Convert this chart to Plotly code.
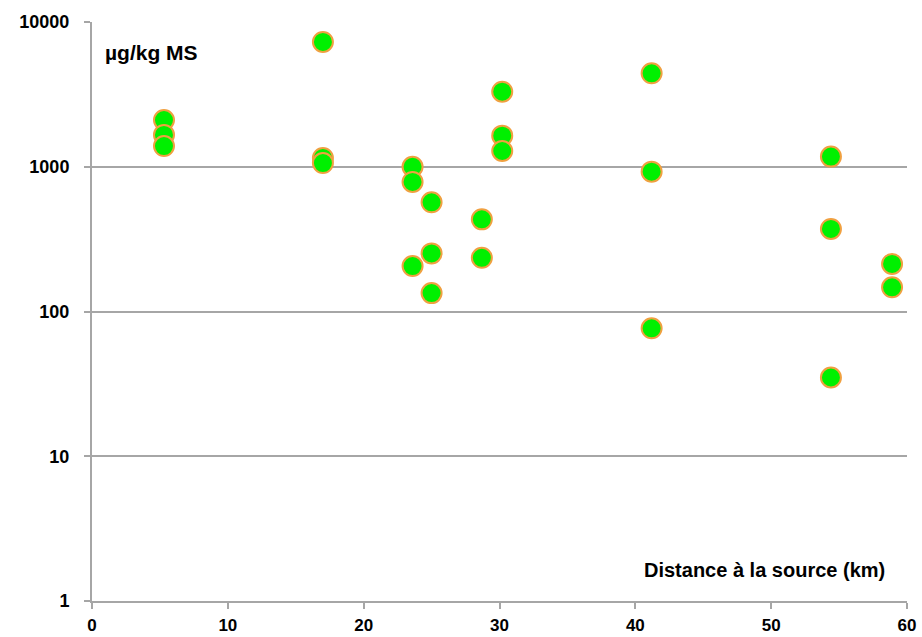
import plotly.graph_objects as go

distance_km = [5.3, 5.3, 5.3, 17.0, 17.0, 17.0, 23.6, 23.6, 23.6,
               25.0, 25.0, 25.0, 28.7, 28.7, 30.2, 30.2, 30.2,
               41.2, 41.2, 41.2, 54.4, 54.4, 54.4, 58.9, 58.9]
concentration = [2100, 1660, 1390, 7280, 1150, 1060, 1000, 785, 206,
                 568, 252, 134, 433, 235, 3300, 1640, 1285,
                 4420, 925, 76.5, 1175, 372, 35, 213, 147]

y_tickvals = [1, 10, 100, 1000, 10000]
y_ticktext = ["1", "10", "100", "1000", "10000"]
x_tickvals = [0, 10, 20, 30, 40, 50, 60]
x_ticktext = ["0", "10", "20", "30", "40", "50", "60"]

fig = go.Figure()
fig.add_trace(go.Scatter(
    x=distance_km, y=concentration, mode="markers",
    marker=dict(size=20, color="#00F000",
                line=dict(color="#F0A040", width=2)),
    showlegend=False, cliponaxis=False,
))

font_fam = "Liberation Sans, Arial, sans-serif"
fig.update_layout(
    width=922, height=637,
    margin=dict(l=92, r=15, t=22, b=36),
    plot_bgcolor="white", paper_bgcolor="white",
    font=dict(family=font_fam, color="black"),
    xaxis=dict(range=[0, 60], tickvals=x_tickvals,
               ticktext=["<b>%s</b>" % t for t in x_ticktext], showgrid=False,
               showline=True, linecolor="#A6A6A6", linewidth=2,
               ticks="outside", ticklen=6, tickcolor="#A6A6A6", tickwidth=1.5,
               tickfont=dict(size=17, family=font_fam),
               ticklabelstandoff=2, zeroline=False, automargin=False),
    yaxis=dict(type="log", range=[0, 4], tickvals=y_tickvals,
               ticktext=["<b>%s</b>" % t for t in y_ticktext],
               showgrid=True, gridcolor="#A6A6A6", gridwidth=1.5,
               showline=True, linecolor="#A6A6A6", linewidth=2,
               ticks="outside", ticklen=6, tickcolor="#A6A6A6", tickwidth=1.5,
               tickfont=dict(size=18, family=font_fam),
               ticklabelstandoff=11, zeroline=False, automargin=False),
    annotations=[
        dict(text="<b>µg/kg MS</b>", xref="paper", yref="paper", x=0.0135, y=0.948,
             xanchor="left", yanchor="middle", showarrow=False,
             font=dict(size=21, family=font_fam)),
        dict(text="<b>Distance à la source (km)</b>", xref="paper", yref="paper",
             x=0.975, y=0.0535, xanchor="right", yanchor="middle", showarrow=False,
             font=dict(size=20, family=font_fam)),
    ],
)

fig.write_html("out.html")
